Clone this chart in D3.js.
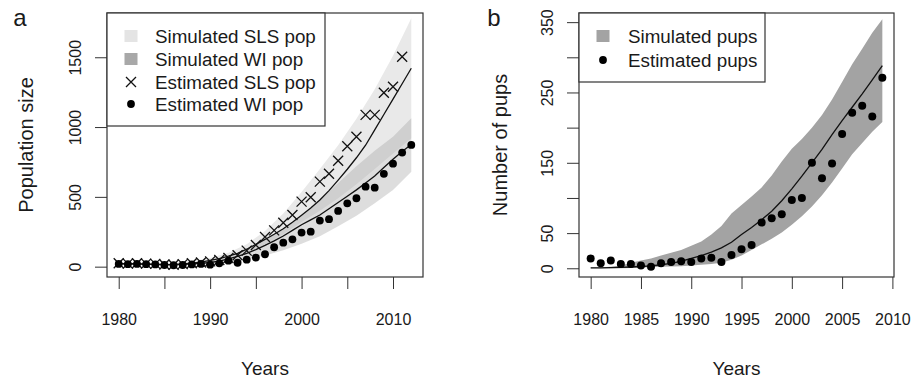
<!DOCTYPE html>
<html>
<head>
<meta charset="utf-8">
<script src="https://cdnjs.cloudflare.com/ajax/libs/d3/7.8.5/d3.min.js"></script>
<style>
body { margin: 0; background: #fff; }
svg text { font-family: "Liberation Sans", Arial, Helvetica, sans-serif; fill: #1a1a1a; }
</style>
</head>
<body>
<div id="chart"></div>
<script>
// ---- panel a : population size ----
var yearsA = [1980,1981,1982,1983,1984,1985,1986,1987,1988,1989,1990,1991,1992,1993,1994,1995,1996,
              1997,1998,1999,2000,2001,2002,2003,2004,2005,2006,2007,2008,2009,2010,2011,2012];
var slsEst = [24,22,24,22,20,16,14,18,24,30,38,48,62,82,115,155,
              212,260,315,370,466,497,609,666,759,862,931,1087,1087,1246,1289,1504];   // 1980-2011
var wiEst = [20,18,20,18,16,12,10,12,16,20,14,24,43,28,50,65,
             89,139,172,196,244,251,330,340,399,454,490,573,566,665,738,817,872];     // 1980-2012
var slsMean = [22,21,20,18,17,15,16,19,25,33,45,58,75,96,125,160,195,232,272,318,368,
               420,478,545,620,698,780,870,980,1090,1200,1310,1421];
var wiMean = [22,21,20,18,16,14,14,16,20,24,30,40,55,73,95,122,152,185,220,260,300,
              335,370,415,460,505,550,600,650,710,770,825,875];

var bandYearsA = [1980,1982,1984,1986,1988,1990,1992,1994,1996,1998,2000,2002,2004,2006,2008,2010,2012];
var slsUpper = [30,30,26,28,40,62,100,160,255,380,535,700,870,1060,1270,1510,1779];
var slsLower = [16,15,12,10,16,30,58,100,160,232,320,400,490,590,700,810,920];
var wiUpper  = [26,24,20,18,26,44,75,125,195,272,365,475,600,720,830,930,1063];
var wiLower  = [14,12,8,6,10,18,32,52,80,118,165,218,290,365,455,550,680];

var xTicksA = [1980,1985,1990,1995,2000,2005,2010];
var xLabelsA = [1980,1990,2000,2010];
var yTicksA = [0,500,1000,1500];

// ---- panel b : pups ----
var yearsB = [1980,1981,1982,1983,1984,1985,1986,1987,1988,1989,1990,1991,1992,1993,1994,
              1995,1996,1997,1998,1999,2000,2001,2002,2003,2004,2005,2006,2007,2008,2009];
var pupsEst = [14,7,11,6,6,4,2,7,9,10,9,14,15,9,19,27,33,65,71,77,97,100,150,128,149,191,221,231,216,271];
var pupsMean = [0.5,0.7,1,1.3,1.8,2.5,3.5,5,7,10,14,18,23,29,37,48,58,69,81,96,113,131,150,169,190,210,229,248,268,288];
var pupsUpper = [1,1.5,2,4,8,11,14,18,22,26,32,38,48,60,78,90,102,115,132,152,170,184,200,218,240,265,290,312,335,354];
var pupsLower = [0,0,0,0,0.5,1,1.5,2,2.5,3,4,5,6,8,12,18,26,34,42,51,62,74,88,104,122,142,162,178,194,208];

var xTicksB = [1980,1985,1990,1995,2000,2005,2010];
var yTicksB = [0,50,100,150,200,250,300,350];
var yLabelsB = [0,50,150,250,350];

var W = 912, H = 380;
var svg = d3.select("#chart").append("svg")
    .attr("width", W)
    .attr("height", H);

var frameA = {left: 107, right: 423, top: 13, bottom: 277};
var frameB = {left: 579, right: 894, top: 13, bottom: 277};

var xA = d3.scaleLinear().domain([1978.72, 2013.28]).range([frameA.left, frameA.right]);
var yA = d3.scaleLinear().domain([-74, 1817]).range([frameA.bottom, frameA.top]);
var xB = d3.scaleLinear().domain([1978.84, 2010.16]).range([frameB.left, frameB.right]);
var yB = d3.scaleLinear().domain([-12.4, 363]).range([frameB.bottom, frameB.top]);

function drawAxes(frame, x, y, xTicks, xLabels, yTicks, yLabels, yTitle, yTitleX, letter, letterX) {
  var gx = svg.append("g")
      .attr("transform", "translate(0," + frame.bottom + ")")
      .call(d3.axisBottom(x).tickValues(xTicks).tickSizeInner(12).tickSizeOuter(0)
            .tickFormat(function(d) { return xLabels.indexOf(d) >= 0 ? d : ""; }));
  gx.select(".domain").remove();
  gx.selectAll(".tick line").attr("stroke", "#333");
  gx.selectAll(".tick text").attr("y", 42).attr("dy", "0.35em")
      .style("font-size", "16px");

  var gy = svg.append("g")
      .attr("transform", "translate(" + frame.left + ",0)")
      .call(d3.axisLeft(y).tickValues(yTicks).tickSizeInner(12).tickSizeOuter(0)
            .tickFormat(function(d) { return yLabels.indexOf(d) >= 0 ? d : ""; }));
  gy.select(".domain").remove();
  gy.selectAll(".tick line").attr("stroke", "#333");
  gy.selectAll(".tick text")
      .attr("x", null).attr("dy", null)
      .attr("text-anchor", "middle")
      .attr("transform", "translate(-32,0) rotate(-90)")
      .attr("dy", "0.35em")
      .style("font-size", "16px");

  svg.append("rect")
      .attr("x", frame.left).attr("y", frame.top)
      .attr("width", frame.right - frame.left)
      .attr("height", frame.bottom - frame.top)
      .attr("fill", "none")
      .attr("stroke", "#333")
      .attr("stroke-width", 1.2);

  svg.append("text")
      .attr("x", (frame.left + frame.right) / 2)
      .attr("y", 368)
      .attr("dy", "0.35em")
      .attr("text-anchor", "middle")
      .style("font-size", "19px")
      .text("Years");

  svg.append("text")
      .attr("transform", "translate(" + yTitleX + "," + (frame.top + frame.bottom) / 2 + ") rotate(-90)")
      .attr("dy", "0.35em")
      .attr("text-anchor", "middle")
      .style("font-size", "20px")
      .text(yTitle);

  svg.append("text")
      .attr("x", letterX)
      .attr("y", 18)
      .attr("dy", "0.35em")
      .attr("text-anchor", "middle")
      .style("font-size", "24px")
      .text(letter);
}

function band(x, y, yrs, lo, hi) {
  return d3.area()
      .x(function(d, i) { return x(yrs[i]); })
      .y0(function(d, i) { return y(lo[i]); })
      .y1(function(d, i) { return y(hi[i]); })(yrs);
}

function meanLine(x, y, yrs, vals) {
  return d3.line()
      .x(function(d, i) { return x(yrs[i]); })
      .y(function(d, i) { return y(vals[i]); })(yrs);
}

function crossPath(cx, cy, s) {
  return "M" + (cx - s) + "," + (cy - s) + "L" + (cx + s) + "," + (cy + s) +
         "M" + (cx - s) + "," + (cy + s) + "L" + (cx + s) + "," + (cy - s);
}

// ---- panel a marks ----
svg.append("path")
    .attr("d", band(xA, yA, bandYearsA, slsLower, slsUpper))
    .attr("fill", "#e9e9e9");
svg.append("path")
    .attr("d", band(xA, yA, bandYearsA, wiLower, wiUpper))
    .attr("fill", "#a0a0a0")
    .attr("fill-opacity", 0.36);

svg.append("path")
    .attr("d", meanLine(xA, yA, yearsA, slsMean))
    .attr("fill", "none").attr("stroke", "#111").attr("stroke-width", 1.3);
svg.append("path")
    .attr("d", meanLine(xA, yA, yearsA, wiMean))
    .attr("fill", "none").attr("stroke", "#111").attr("stroke-width", 1.3);

svg.append("g").selectAll("path")
    .data(slsEst)
  .enter().append("path")
    .attr("d", function(d, i) { return crossPath(xA(yearsA[i]), yA(d), 5); })
    .attr("stroke", "#111")
    .attr("stroke-width", 1.3);

svg.append("g").selectAll("circle")
    .data(wiEst)
  .enter().append("circle")
    .attr("cx", function(d, i) { return xA(yearsA[i]); })
    .attr("cy", function(d) { return yA(d); })
    .attr("r", 3.9)
    .attr("fill", "#000");

// ---- panel b marks ----
svg.append("path")
    .attr("d", band(xB, yB, yearsB, pupsLower, pupsUpper))
    .attr("fill", "#a3a3a3");
svg.append("path")
    .attr("d", meanLine(xB, yB, yearsB, pupsMean))
    .attr("fill", "none").attr("stroke", "#111").attr("stroke-width", 1.3);
svg.append("g").selectAll("circle")
    .data(pupsEst)
  .enter().append("circle")
    .attr("cx", function(d, i) { return xB(yearsB[i]); })
    .attr("cy", function(d) { return yB(d); })
    .attr("r", 4)
    .attr("fill", "#000");

drawAxes(frameA, xA, yA, xTicksA, xLabelsA, yTicksA, yTicksA, "Population size", 26, "a", 20);
drawAxes(frameB, xB, yB, xTicksB, xTicksB, yTicksB, yLabelsB, "Number of pups", 500, "b", 494);

// ---- legends ----
function legend(x0, x1, y0, rowY, items) {
  var g = svg.append("g");
  g.append("rect")
      .attr("x", x0).attr("y", y0)
      .attr("width", x1 - x0)
      .attr("height", rowY[rowY.length - 1] + 22 - y0)
      .attr("fill", "#fff")
      .attr("stroke", "#333")
      .attr("stroke-width", 1.2);
  items.forEach(function(it, i) {
    var cy = rowY[i], cx = x0 + it.sx;
    if (it.kind === "fill") {
      g.append("rect").attr("x", cx - 6.5).attr("y", cy - 6).attr("width", 13).attr("height", 12)
          .attr("fill", it.color);
    } else if (it.kind === "cross") {
      g.append("path").attr("d", crossPath(cx, cy, 5)).attr("stroke", "#111").attr("stroke-width", 1.3);
    } else {
      g.append("circle").attr("cx", cx).attr("cy", cy).attr("r", 3.9).attr("fill", "#000");
    }
    g.append("text")
        .attr("x", x0 + it.tx)
        .attr("y", cy)
        .attr("dy", "0.35em")
        .style("font-size", "18.8px")
        .text(it.label);
  });
}

legend(frameA.left, 325, frameA.top, [36, 59, 82, 104], [
  {kind: "fill", color: "#e4e4e4", label: "Simulated SLS pop", sx: 24, tx: 48},
  {kind: "fill", color: "#a8a8a8", label: "Simulated WI pop", sx: 24, tx: 48},
  {kind: "cross", label: "Estimated SLS pop", sx: 24, tx: 48},
  {kind: "dot", label: "Estimated WI pop", sx: 24, tx: 48}
]);

legend(frameB.left, 765, frameB.top, [36, 60], [
  {kind: "fill", color: "#a3a3a3", label: "Simulated pups", sx: 24, tx: 49},
  {kind: "dot", label: "Estimated pups", sx: 24, tx: 49}
]);
</script>
</body>
</html>
